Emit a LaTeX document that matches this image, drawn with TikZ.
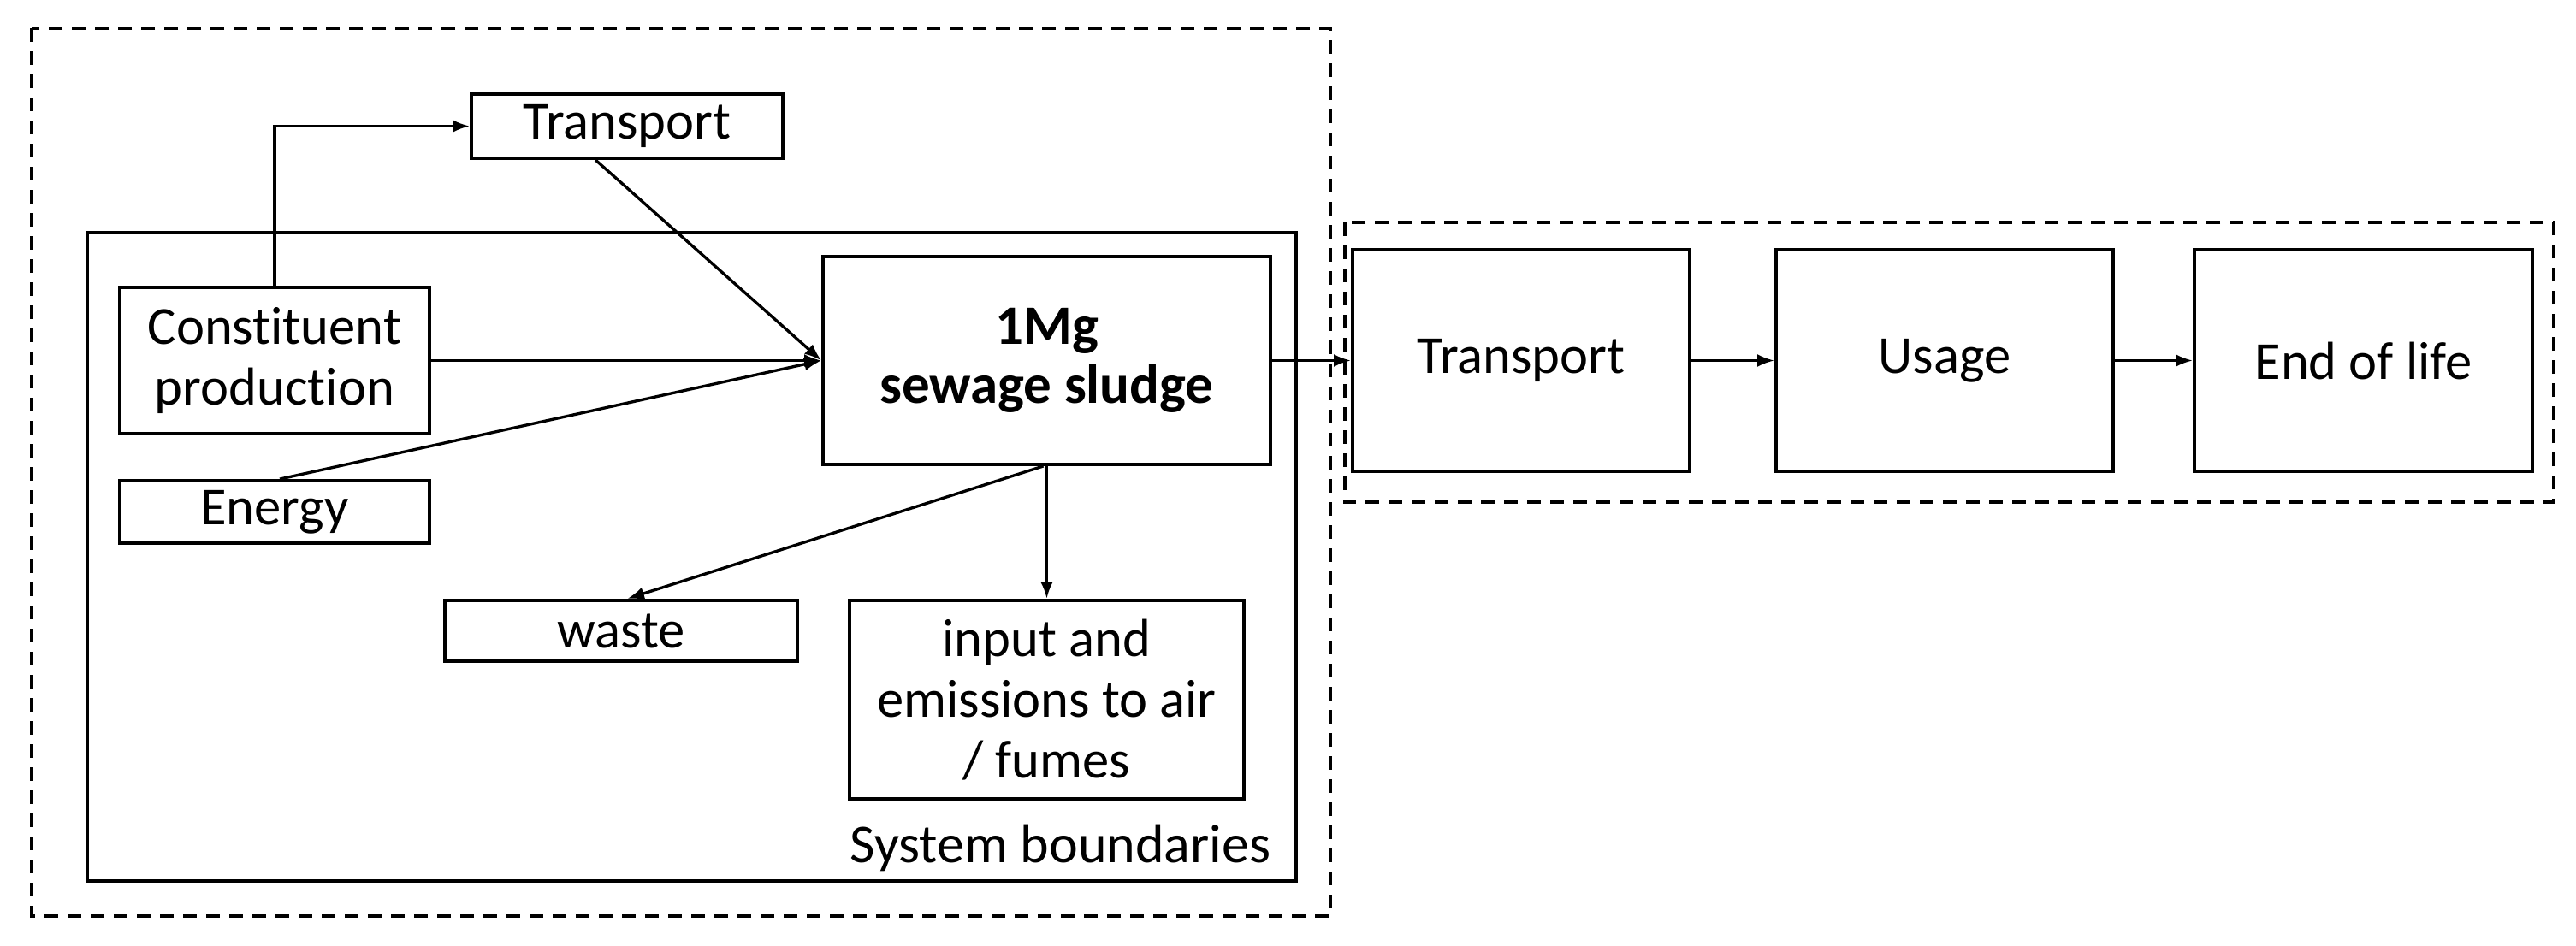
\documentclass[tikz,border=0pt]{standalone}
\usepackage{fontspec}
\setmainfont{Carlito}[Ligatures={NoCommon}]
\usetikzlibrary{arrows.meta}
\tikzset{
  box/.style={draw=black, line width=1.1pt, inner sep=0pt, align=center,
    font=\fontsize{17.8}{20.2}\selectfont},
  boldbox/.style={box, font=\fontsize{18.5}{19.8}\selectfont\bfseries},
  conn/.style={line width=0.95pt, -{Latex[length=2mm,width=1.5mm]}},
  dashbox/.style={draw=black, line width=1pt, dash pattern=on 1.6mm off 1.1mm},
  sysbox/.style={draw=black, line width=1.1pt}
}
\begin{document}
\begin{tikzpicture}
\useasboundingbox (0,0) rectangle (30.11,-11.05);
% boundaries
\draw[dashbox] (0.37,-0.33) rectangle (15.55,-10.71);
\draw[sysbox] (1.02,-2.72) rectangle (15.15,-10.30);
\draw[dashbox] (15.72,-2.60) rectangle (29.85,-5.87);
\node[anchor=base east, font=\fontsize{18.2}{20.2}\selectfont] (sys) at (14.98,-10.08) {System boundaries};
% nodes
\node[box, minimum width=3.64cm, minimum height=0.75cm] (trans1) at (7.33,-1.475) {Transport};
\node[box, minimum width=3.62cm, minimum height=1.71cm] (cons) at (3.21,-4.215) {Constituent\\production};
\node[boldbox, minimum width=5.23cm, minimum height=2.43cm] (mg) at (12.235,-4.215) {1Mg\\sewage sludge};
\node[box, minimum width=3.62cm, minimum height=0.73cm] (energy) at (3.21,-5.985) {Energy};
\node[box, minimum width=4.12cm, minimum height=0.71cm] (waste) at (7.26,-7.375) {waste};
\node[box, minimum width=4.61cm, minimum height=2.32cm] (inp) at (12.235,-8.18) {input and\\emissions to air\\/ fumes};
\node[box, minimum width=3.94cm, minimum height=2.59cm] (t2) at (17.78,-4.215) {Transport};
\node[box, minimum width=3.94cm, minimum height=2.59cm] (usage) at (22.73,-4.215) {Usage};
\node[box, minimum width=3.95cm, minimum height=2.59cm] (eol) at (27.625,-4.215) {End of life};
% connectors
\draw[conn] (cons.north) |- (trans1.west);
\draw[conn] ([xshift=-0.37cm]trans1.south) -- (mg.west);
\draw[conn] (cons.east) -- (mg.west);
\draw[conn] ([xshift=0.06cm]energy.north) -- (mg.west);
\draw[conn] ([xshift=-0.04cm]mg.south) -- ([xshift=0.07cm]waste.north);
\draw[conn] (mg.south) -- (inp.north);
\draw[conn] (mg.east) -- (t2.west);
\draw[conn] (t2.east) -- (usage.west);
\draw[conn] (usage.east) -- (eol.west);
\end{tikzpicture}
\end{document}
